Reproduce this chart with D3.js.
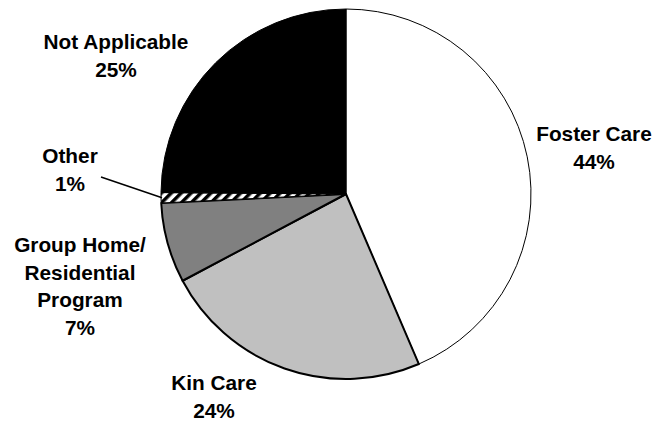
<!DOCTYPE html>
<html>
<head>
<meta charset="utf-8">
<script src="https://cdn.jsdelivr.net/npm/d3@7"></script>
<style>
  html, body { margin: 0; padding: 0; background: #fff; }
  svg { display: block; }
  text { font-family: "Liberation Sans", Arial, sans-serif; font-weight: bold; fill: #000; }
</style>
</head>
<body>
<svg id="chart" width="652" height="421"></svg>
<script>
// ---- data ----
const categories = ["Foster Care", "Kin Care", "Group Home/ Residential Program", "Other", "Not Applicable"];
const values = [43.6, 23.7, 7.0, 0.9, 24.9];
const percentLabels = ["44%", "24%", "7%", "1%", "25%"];
const labelLines = [["Foster Care"], ["Kin Care"], ["Group Home/", "Residential", "Program"], ["Other"], ["Not Applicable"]];

// ---- styles / layout ----
const fills = ["#ffffff", "#c0c0c0", "#808080", "url(#hatch)", "#000000"];
const strokeWidths = [1, 2, 2, 1, 1];
const labelAnchors = [[594, 141], [214, 390], [80, 252], [70, 163], [116, 49]];
const lineGap = 27.6;

const svg = d3.select("#chart");
const cx = 346, cy = 194, r = 185;

const defs = svg.append("defs");
const pat = defs.append("pattern")
  .attr("id", "hatch").attr("patternUnits", "userSpaceOnUse")
  .attr("width", 7).attr("height", 7)
  .attr("patternTransform", "rotate(45)");
pat.append("rect").attr("width", 7).attr("height", 7).attr("fill", "#fff");
pat.append("rect").attr("width", 3.5).attr("height", 7).attr("fill", "#000");

const pie = d3.pie().sort(null).value(d => d)(values);
const arc = d3.arc().innerRadius(0).outerRadius(r);

const g = svg.append("g").attr("transform", `translate(${cx},${cy})`);
g.selectAll("path").data(pie).join("path")
  .attr("d", arc)
  .attr("fill", (d, i) => fills[i])
  .attr("stroke", "#000")
  .attr("stroke-width", (d, i) => strokeWidths[i])
  .attr("stroke-linejoin", "round");

// leader line for "Other"
const otherIdx = 3;
const oa = (pie[otherIdx].startAngle + pie[otherIdx].endAngle) / 2;
svg.append("line")
  .attr("x1", 101).attr("y1", 177)
  .attr("x2", cx + Math.sin(oa) * (r - 1)).attr("y2", cy - Math.cos(oa) * (r - 1))
  .attr("stroke", "#000").attr("stroke-width", 1.5);

// labels
categories.forEach((c, i) => {
  const [x, y] = labelAnchors[i];
  const lines = labelLines[i].concat([percentLabels[i]]);
  const t = svg.append("text")
    .attr("text-anchor", "middle")
    .attr("font-size", "20.8px");
  lines.forEach((ln, k) => {
    t.append("tspan").attr("x", x).attr("y", y + k * lineGap).text(ln);
  });
});
</script>
</body>
</html>
